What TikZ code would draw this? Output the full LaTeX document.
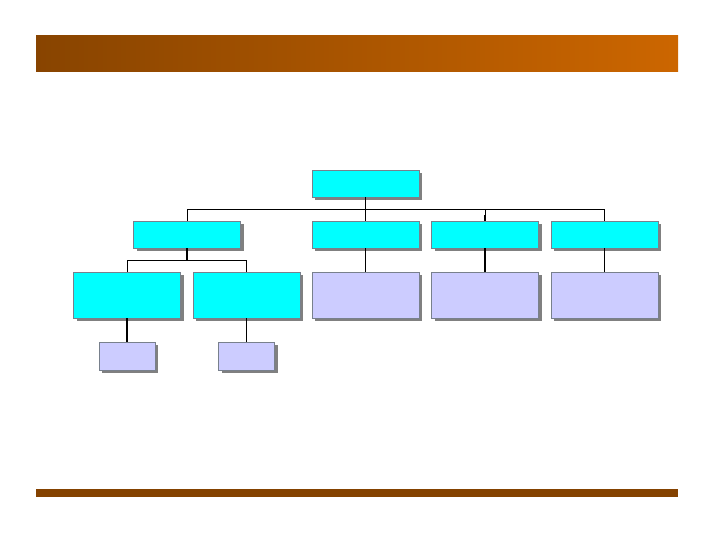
\documentclass[tikz,border=0pt]{standalone}
\usetikzlibrary{positioning,shadows}
\definecolor{barleft}{RGB}{136,68,0}
\definecolor{barright}{RGB}{204,102,0}
\definecolor{barfoot}{RGB}{132,66,0}
\definecolor{unitcyan}{RGB}{0,255,255}
\definecolor{unitlav}{RGB}{204,204,255}
\definecolor{unitedge}{RGB}{120,128,140}
\tikzset{
    unit/.style = {
        draw=unitedge,
        shape=rectangle,
        inner sep=0pt,
        outer sep=0pt,
        line width=0.6pt,
        minimum width=107pt,
        minimum height=27pt,
        drop shadow={shadow xshift=3pt, shadow yshift=-3pt, fill=gray, opacity=1}
    },
    top/.style = {
        unit,
        fill=unitcyan
    },
    sub/.style = {
        unit,
        minimum height=46pt
    },
    leaf/.style = {
        unit,
        fill=unitlav,
        minimum width=56pt,
        minimum height=28pt
    },
    link/.style = {
        draw,
        line width=1.4pt
    },
    thinlink/.style = {
        draw,
        line width=0.9pt
    }
}
\begin{document}
\begin{tikzpicture}[x=1pt,y=-1pt]
            \useasboundingbox (0,0) rectangle (720,540);
            \shade[left color=barleft, right color=barright] (36,36) rectangle (678,72);
            \fill[barfoot] (36,489) rectangle (678,497);

            \node[top] (head) at (365.5,183.5) {};
            \node[top] (groupa) at (187,234.5) {};
            \node[top] (groupb) at (365.5,234.5) {};
            \node[top] (groupc) at (485,234.5) {};
            \node[top] (groupd) at (604.5,234.5) {};

            \node[sub, fill=unitcyan] (parta) at (127,295) {};
            \node[sub, fill=unitcyan] (partb) at (246.5,295) {};
            \node[sub, fill=unitlav] (partc) at (365.5,295) {};
            \node[sub, fill=unitlav] (partd) at (485,295) {};
            \node[sub, fill=unitlav] (parte) at (604.5,295) {};

            \node[leaf] (itema) at (127,356) {};
            \node[leaf] (itemb) at (246.5,356) {};

            \coordinate (headjoin) at (365.5,209);
            \coordinate (groupjoin) at (187,260.5);

            \path[link] (head.south) -- (headjoin);
            \path[thinlink] (headjoin) -| (groupa.north);
            \path[thinlink] (headjoin) -| (groupc.north);
            \path[thinlink] (headjoin) -| (groupd.north);
            \path[link] (headjoin) -- (groupb.north);
            \path[link] (groupc.north) -- ++(0,-6);

            \path[link] (groupa.south) -- (groupjoin);
            \path[thinlink] (groupjoin) -| (parta.north);
            \path[thinlink] (groupjoin) -| (partb.north);

            \path[link] (groupb.south) -- (partc.north);
            \path[link] (groupc.south) -- (partd.north);
            \path[thinlink] (groupd.south) -- (parte.north);

            \path[link] (parta.south) -- (itema.north);
            \path[thinlink] (partb.south) -- (itemb.north);

        \end{tikzpicture}
\end{document}
